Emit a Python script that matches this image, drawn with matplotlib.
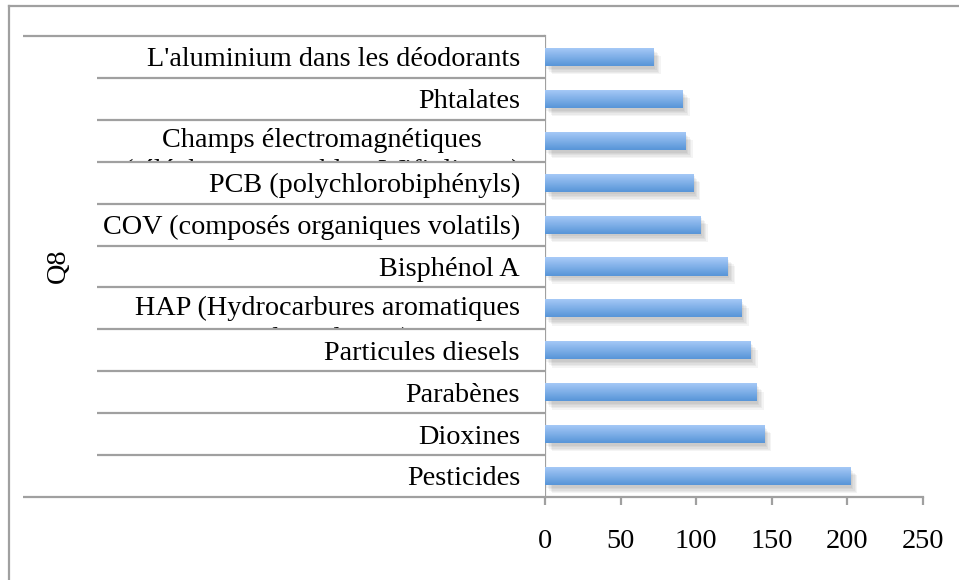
import numpy as np
import matplotlib
matplotlib.use("Agg")
import matplotlib.pyplot as plt
import matplotlib.transforms as mtransforms
import matplotlib.patheffects as pe
from matplotlib.colors import LinearSegmentedColormap
from matplotlib.lines import Line2D

categories = [
    "Pesticides",
    "Dioxines",
    "Parabènes",
    "Particules diesels",
    "HAP (Hydrocarbures aromatiques\npolycycliques)",
    "Bisphénol A",
    "COV (composés organiques volatils)",
    "PCB (polychlorobiphényls)",
    "Champs électromagnétiques\n(téléphones portables, Wifi, lignes)",
    "Phtalates",
    "L'aluminium dans les déodorants",
]
values = [202, 145, 140, 136, 130, 121, 103, 98, 93, 91, 72]
xticks = [0, 50, 100, 150, 200, 250]
axis_title = "Q8"

W, H = 959, 580
grey = "#a0a0a0"
font = "Liberation Serif"
fs = 20.3

fig = plt.figure(figsize=(W / 100, H / 100), dpi=100)
ax = fig.add_axes([545 / W, 1 - 497 / H, (923 - 545) / W, (497 - 36) / H])

# outer chart frame (cut by the screenshot on the right and bottom)
fig.add_artist(Line2D([9 / W, 9 / W], [0, 1 - 6 / H], color=grey, lw=1.6))
fig.add_artist(Line2D([9 / W, 1], [1 - 6 / H, 1 - 6 / H], color=grey, lw=1.6))

y = np.arange(len(categories))
bh = 0.43
cmap = LinearSegmentedColormap.from_list("barblue", ["#5795d8", "#a9cbf8"])
grad = np.linspace(0, 1, 64).reshape(-1, 1)

shadow = [pe.SimplePatchShadow(offset=(d, -d - 1), shadow_rgbFace="#000000", alpha=0.045)
          for d in (1, 2, 3, 4, 5)]
bars = ax.barh(y, values, height=bh, color="#7fb0ea", zorder=2,
               path_effects=shadow + [pe.Normal()])
for b, yi, v in zip(bars, y, values):
    im = ax.imshow(grad, extent=(0, v, yi - bh / 2, yi + bh / 2), origin="lower",
                   aspect="auto", cmap=cmap, zorder=3, interpolation="bicubic")
    im.set_clip_path(b)

ax.set_xlim(0, 250)
ax.set_ylim(-0.5, len(categories) - 0.5)
ax.set_xticks(xticks)
ax.set_yticks([])
for s in ("top", "right"):
    ax.spines[s].set_visible(False)
for s in ("left", "bottom"):
    ax.spines[s].set_color(grey)
    ax.spines[s].set_linewidth(1.6)
ax.tick_params(axis="x", direction="out", length=6, width=1.6, color=grey,
               pad=17, labelsize=fs)
for t in ax.get_xticklabels():
    t.set_fontfamily(font)

# label table to the left of the axis
tr = mtransforms.blended_transform_factory(fig.transFigure, ax.transData)
ax_left = 545 / W
n = len(categories)
for i, (lab, yi) in enumerate(zip(categories[::-1], y[::-1])):
    z = 10 + 2 * i
    box = plt.Rectangle((97 / W, yi - 0.5), ax_left - 97 / W, 1, transform=tr,
                        facecolor="white", edgecolor="none", zorder=z, clip_on=False)
    ax.add_artist(box)
    if "\n" in lab:
        ax.text(520 / W, yi + 0.3, lab, transform=tr, ha="right", va="top",
                multialignment="center", fontsize=fs, family=font,
                linespacing=1.32, zorder=z + 1, clip_on=False)
    else:
        ax.text(520 / W, yi - 0.07, lab, transform=tr, ha="right", va="center",
                fontsize=fs, family=font, zorder=z + 1, clip_on=False)

for k in range(n + 1):
    yb = k - 0.5
    x0 = 23 / W if k in (0, n) else 97 / W
    ax.plot([x0, ax_left], [yb, yb], transform=tr, color=grey, lw=1.6,
            zorder=100, clip_on=False, solid_capstyle="butt")

fig.text(58 / W, 1 - 266 / H, axis_title, rotation=90, ha="center", va="center",
         fontsize=fs, family=font)

fig.savefig("out.png", dpi=100)
